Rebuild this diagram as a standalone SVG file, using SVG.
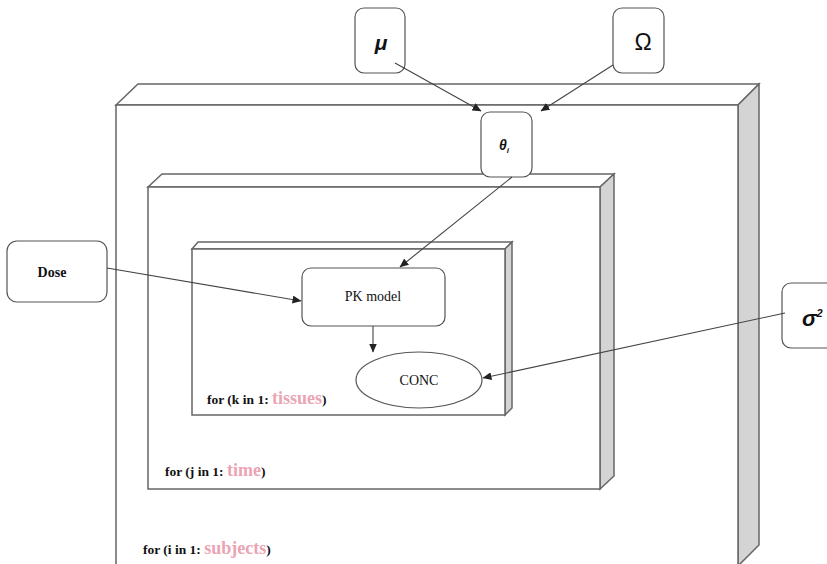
<svg xmlns="http://www.w3.org/2000/svg" width="827" height="564" viewBox="0 0 827 564">
<defs>
<marker id="ah" markerWidth="9" markerHeight="8" refX="8.5" refY="4" orient="auto" markerUnits="userSpaceOnUse">
<path d="M0,0 L9,4 L0,8 Z" fill="#222"/>
</marker>
<style>
.plate{fill:#fff;stroke:#666;stroke-width:1.5}
.side{fill:#d4d4d4;stroke:#666;stroke-width:1.5}
.node{fill:#fff;stroke:#555;stroke-width:1.2}
.lbl{font-family:"Liberation Serif",serif;font-weight:bold;font-size:13.5px;fill:#111}
.pink{font-family:"Liberation Serif",serif;font-weight:bold;font-size:18px;fill:#eba4b4}
.txt{font-family:"Liberation Serif",serif;font-size:14px;fill:#111}
.greek{font-family:"Liberation Sans",sans-serif;fill:#111}
.conn{stroke:#444;stroke-width:1.1;fill:none;marker-end:url(#ah)}
</style>
</defs>
<rect width="827" height="564" fill="#fff"/>
<g id="plate-subjects">
<polygon class="plate" points="116,105 138,84 759,84 738,105"/>
<polygon class="side" points="738,105 759,84 759,545 738,566"/>
<rect class="plate" x="116" y="105" width="622" height="470"/>
<text class="lbl" x="143" y="554">for (i in 1: <tspan class="pink">subjects</tspan>)</text>
</g>
<g id="plate-time">
<polygon class="plate" points="148,187 162,174 614,174 600,187"/>
<polygon class="side" points="600,187 614,174 614,476 600,489"/>
<rect class="plate" x="148" y="187" width="452" height="302"/>
<text class="lbl" x="165" y="476">for (j in 1: <tspan class="pink">time</tspan>)</text>
</g>
<g id="plate-tissues">
<polygon class="plate" points="192,249 198,242 512,242 505,249"/>
<polygon class="side" points="505,249 512,242 512,408 505,415"/>
<rect class="plate" x="192" y="249" width="313" height="166"/>
<text class="lbl" x="207" y="404">for (k in 1: <tspan class="pink">tissues</tspan>)</text>
</g>
<g id="node-mu">
<rect class="node" x="355" y="8" width="50" height="65" rx="9"/>
<text class="greek" x="381" y="50" font-size="21" font-weight="bold" font-style="italic" text-anchor="middle">μ</text>
</g>
<g id="node-omega">
<rect class="node" x="613" y="8" width="51" height="65" rx="9"/>
<text class="greek" x="643" y="50" font-size="23" text-anchor="middle">Ω</text>
</g>
<g id="node-theta">
<rect class="node" x="481" y="112" width="51" height="65" rx="9"/>
<text class="greek" x="504" y="150" font-size="14" font-weight="bold" font-style="italic" text-anchor="middle">θ<tspan font-size="8" dy="3">i</tspan></text>
</g>
<g id="node-dose">
<rect class="node" x="7" y="241" width="100" height="61" rx="10"/>
<text class="txt" x="52" y="277" text-anchor="middle" font-weight="bold">Dose</text>
</g>
<g id="node-pk">
<rect class="node" x="302" y="268" width="143" height="58" rx="9"/>
<text class="txt" x="373" y="301" text-anchor="middle">PK model</text>
</g>
<g id="node-conc">
<ellipse class="node" cx="419" cy="380" rx="63" ry="28"/>
<text class="txt" x="419" y="385" text-anchor="middle">CONC</text>
</g>
<g id="node-sigma">
<rect class="node" x="782" y="283" width="60" height="65" rx="9"/>
<text class="greek" x="802" y="326" font-size="22" font-weight="bold" font-style="italic">σ<tspan font-size="11" dy="-9">2</tspan></text>
</g>
<g id="connectors">
<line class="conn" x1="395" y1="63" x2="481" y2="111"/>
<line class="conn" x1="613" y1="65" x2="541" y2="111"/>
<line class="conn" x1="512" y1="177" x2="400" y2="267"/>
<line class="conn" x1="107" y1="268" x2="301" y2="301"/>
<line class="conn" x1="373" y1="326" x2="373" y2="352"/>
<line class="conn" x1="785" y1="313" x2="483" y2="378"/>
</g>
</svg>
